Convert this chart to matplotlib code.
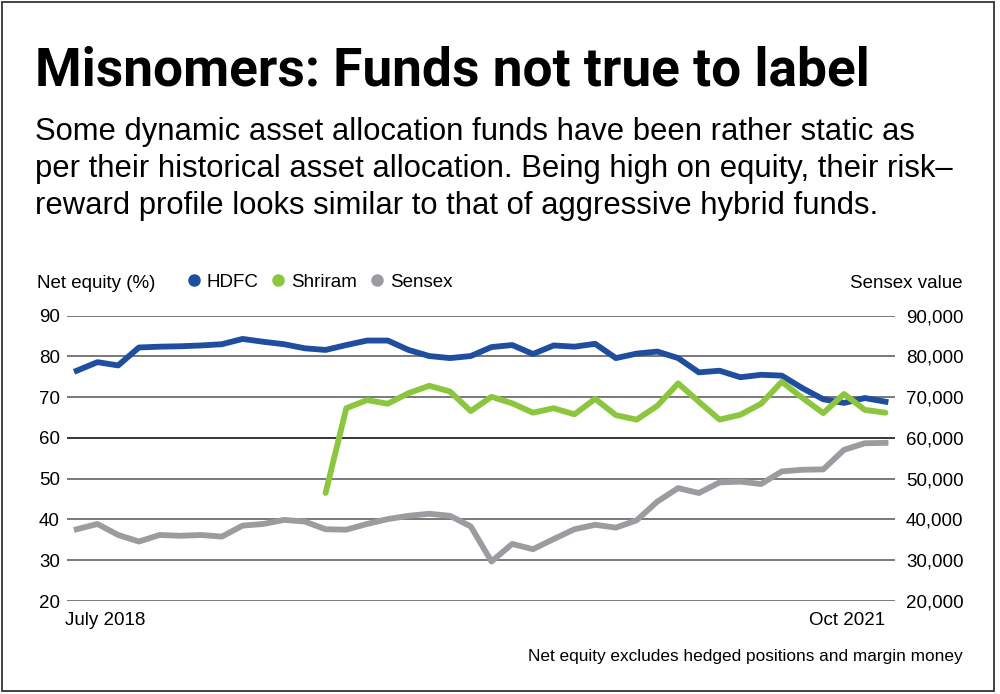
import matplotlib
matplotlib.use("Agg")
import matplotlib.pyplot as plt
from matplotlib.lines import Line2D
from matplotlib.patches import Rectangle
import numpy as np

# monthly, July 2018 .. Oct 2021 (40 points)
months = np.arange(40)
x_labels = ["July 2018", "Oct 2021"]

hdfc = [76.5, 78.6, 77.8, 82.2, 82.4, 82.5, 82.7, 83.0, 84.3, 83.6,
        83.0, 82.0, 81.6, 82.8, 83.9, 83.9, 81.6, 80.1, 79.6, 80.1,
        82.3, 82.8, 80.6, 82.7, 82.4, 83.1, 79.6, 80.7, 81.2, 79.6,
        76.1, 76.5, 74.9, 75.5, 75.3, 72.2, 69.5, 68.6, 69.8, 68.9]

# Shriram data starts in July 2019
shriram = [None] * 12 + [
    46.5, 67.3, 69.3, 68.4, 71.0, 72.8, 71.4, 66.6, 70.1, 68.5,
    66.2, 67.3, 65.8, 69.6, 65.6, 64.5, 67.9, 73.4, 68.9, 64.5,
    65.7, 68.4, 73.8, 69.8, 66.1, 70.8, 66.9, 66.2]

# Sensex in thousands
sensex = [37.6, 38.9, 36.2, 34.6, 36.2, 36.0, 36.2, 35.8, 38.5, 38.9,
          39.9, 39.5, 37.6, 37.5, 38.9, 40.1, 40.9, 41.4, 40.9, 38.3,
          29.7, 34.0, 32.7, 35.2, 37.6, 38.7, 38.0, 39.8, 44.4, 47.7,
          46.5, 49.1, 49.3, 48.7, 51.8, 52.2, 52.3, 57.1, 58.7, 58.8]

left_ticks = [20, 30, 40, 50, 60, 70, 80, 90]
right_labels = ["20,000", "30,000", "40,000", "50,000", "60,000", "70,000", "80,000", "90,000"]

BLUE = "#1f4e9f"
GREEN = "#8cc63f"
GREY = "#9b9c9f"

plt.rcParams["font.family"] = ["Liberation Sans", "DejaVu Sans"]

fig = plt.figure(figsize=(10, 6.94), dpi=100)
W, H = 1000, 694

def fx(px):
    return px / W

def fy(py):
    return 1 - py / H

renderer = fig.canvas.get_renderer()

def fit_text(px, py, s, width, **kw):
    # size the text so it spans `width` pixels
    t = fig.text(fx(px), fy(py), s, va="baseline", ha="left", **kw)
    w = t.get_window_extent(renderer).width
    t.set_fontsize(t.get_fontsize() * width / w)
    return t

fig.add_artist(Rectangle((fx(2), fy(691)), fx(992), 689 / H, transform=fig.transFigure,
                         fill=False, edgecolor="#333333", linewidth=1.3))

fit_text(35, 86, "Misnomers: Funds not true to label", 835,
         family=["Roboto", "Liberation Sans"], weight="bold", fontsize=40)

sub = ["Some dynamic asset allocation funds have been rather static as",
       "per their historical asset allocation. Being high on equity, their risk\u2013",
       "reward profile looks similar to that of aggressive hybrid funds."]
for i, line in enumerate(sub):
    fig.text(fx(35), fy(140 + 37 * i), line, fontsize=22.3, va="baseline", ha="left")

ax = fig.add_axes([fx(66.7), fy(601), fx(895 - 66.7), (601 - 315.7) / H])
ax.plot(months, hdfc, color=BLUE, lw=4.2, zorder=4)
ax.plot(months, [np.nan if v is None else v for v in shriram], color=GREEN, lw=4.2,
        solid_capstyle="round", zorder=5)
ax.plot(months, sensex, color=GREY, lw=4.2, zorder=3)

ax.set_xlim(-10 / 20.74, 39 + 9.5 / 20.74)
ax.set_ylim(20, 90)
ax.set_yticks(left_ticks)
for t in left_ticks:
    ax.axhline(t, color="#000000" if t == 60 else "#555555", lw=1.1, zorder=1)
for s in ax.spines.values():
    s.set_visible(False)
ax.set_xticks([])
ax.tick_params(axis="y", length=0, pad=5, labelsize=13.5)

ax2 = ax.twinx()
ax2.set_ylim(20, 90)
ax2.set_yticks(left_ticks)
ax2.set_yticklabels(right_labels)
ax2.tick_params(axis="y", length=0, pad=8, labelsize=13.5)
for s in ax2.spines.values():
    s.set_visible(False)

ax.text(0 - 0.55, -0.085, x_labels[0], transform=ax.get_xaxis_transform(), fontsize=13.5,
        ha="left", va="baseline")
ax.text(39, -0.085, x_labels[1], transform=ax.get_xaxis_transform(), fontsize=13.5,
        ha="right", va="baseline")

fig.text(fx(37), fy(288), "Net equity (%)", fontsize=13.5, ha="left", va="baseline")
fig.text(fx(963), fy(288), "Sensex value", fontsize=13.5, ha="right", va="baseline")
fig.text(fx(963), fy(661), "Net equity excludes hedged positions and margin money",
         fontsize=12.4, ha="right", va="baseline")

handles = [Line2D([], [], ls="none", marker="o", markersize=8, color=c)
           for c in (BLUE, GREEN, GREY)]
fig.legend(handles, ["HDFC", "Shriram", "Sensex"], loc="center left",
           bbox_to_anchor=(fx(173), fy(282)), ncol=3, frameon=False, fontsize=13.5,
           handletextpad=0.1, columnspacing=0.45, handlelength=1.2, borderpad=0)

fig.savefig("out.png", dpi=100)
